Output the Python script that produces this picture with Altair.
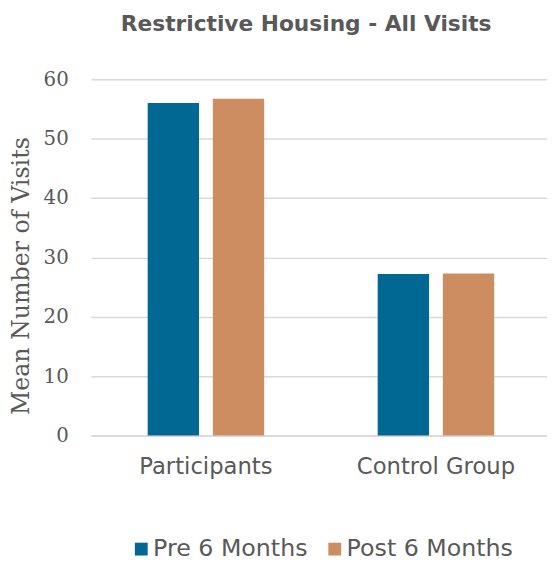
import altair as alt
import pandas as pd

groups = ["Participants", "Control Group"]
periods = ["Pre 6 Months", "Post 6 Months"]
pre_values = [56.0, 27.2]
post_values = [56.7, 27.3]
y_ticks = [0, 10, 20, 30, 40, 50, 60]
colors = ["#006892", "#CD8D60"]

rows = []
for g, a, b in zip(groups, pre_values, post_values):
    rows.append({"group": g, "period": periods[0], "value": a})
    rows.append({"group": g, "period": periods[1], "value": b})
df = pd.DataFrame(rows)

SANS = "DejaVu Sans"
SERIF = "DejaVu Serif"
GRAY = "#595959"

chart = alt.Chart(df).mark_bar().encode(
    x=alt.X(
        "group:N",
        sort=groups,
        scale=alt.Scale(paddingInner=0, paddingOuter=0),
        axis=alt.Axis(
            title=None,
            labelAngle=0,
            labelFont=SANS,
            labelFontSize=23,
            labelColor=GRAY,
            labelPadding=20,
            ticks=False,
            domainColor="#d9d9d9",
            domainWidth=1.5,
            grid=False,
        ),
    ),
    xOffset=alt.XOffset(
        "period:N",
        sort=periods,
        scale=alt.Scale(paddingInner=0.2121, paddingOuter=0.871),
    ),
    y=alt.Y(
        "value:Q",
        scale=alt.Scale(domain=[0, 60], nice=False),
        axis=alt.Axis(
            title="Mean Number of Visits",
            values=y_ticks,
            labelFont=SERIF,
            labelFontSize=20,
            labelColor=GRAY,
            labelPadding=23,
            ticks=False,
            domain=False,
            gridColor="#d9d9d9",
            gridWidth=1.5,
            titleFont=SERIF,
            titleFontSize=24,
            titleFontWeight="normal",
            titleColor=GRAY,
            titleX=-70,
            titleY=199,
            titleAngle=270,
            titleAlign="center",
            titleBaseline="middle",
        ),
    ),
    color=alt.Color(
        "period:N",
        sort=periods,
        scale=alt.Scale(domain=periods, range=colors),
        legend=alt.Legend(
            title=None,
            orient="none",
            direction="horizontal",
            legendX=39,
            legendY=464,
            columns=2,
            columnPadding=15,
            symbolType="square",
            symbolSize=169,
            symbolStrokeWidth=0,
            labelFont=SANS,
            labelFontSize=24,
            labelColor=GRAY,
            labelOffset=0,
            labelLimit=300,
            padding=0,
        ),
    ),
).properties(
    width=466,
    height=361,
    title=alt.TitleParams(
        text="Restrictive Housing - All Visits",
        font=SANS,
        fontSize=22,
        fontWeight="bold",
        color=GRAY,
        anchor="middle",
        baseline="alphabetic",
        offset=17,
        dx=-15,
    ),
    autosize=alt.AutoSizeParams(type="none"),
    padding={"left": 84, "top": 68.5, "right": -4, "bottom": 130},
).configure_view(stroke=None)

chart.save("out.html", embed_options={"renderer": "svg", "actions": False})
